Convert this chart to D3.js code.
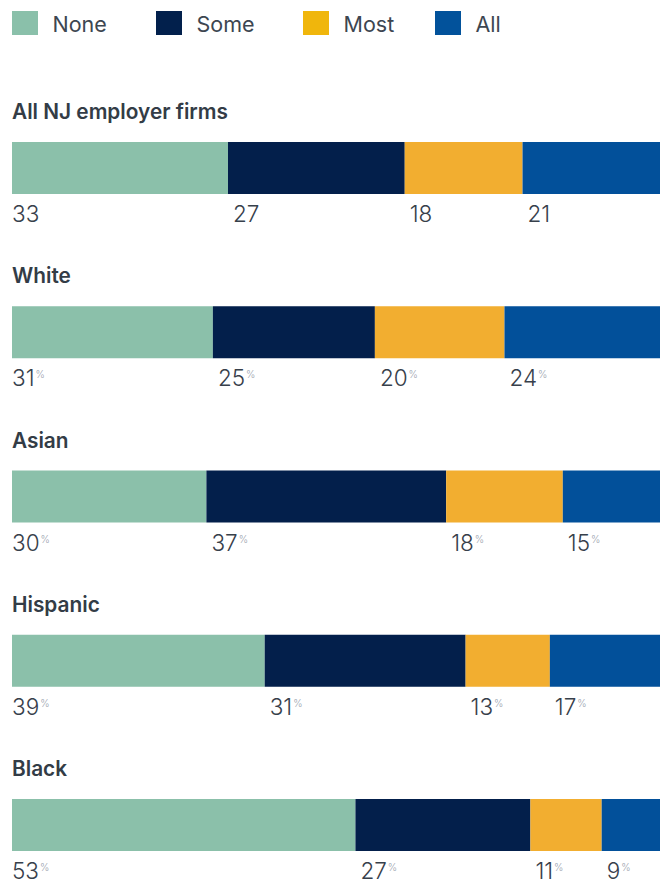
<!DOCTYPE html>
<html>
<head>
<meta charset="utf-8">
<script src="https://cdn.jsdelivr.net/npm/d3@7"></script>
<style>
  html, body { margin: 0; padding: 0; background: #fff; }
  svg { display: block; font-family: Inter, "Noto Sans", sans-serif; }
</style>
</head>
<body>
<svg id="chart" width="660" height="883"></svg>
<script>
// ---- Data ----
const categories = ["All NJ employer firms", "White", "Asian", "Hispanic", "Black"];
const seriesNames = ["None", "Some", "Most", "All"];
const noneValues = [33, 31, 30, 39, 53];
const someValues = [27, 25, 37, 31, 27];
const mostValues = [18, 20, 18, 13, 11];
const allValues  = [21, 24, 15, 17, 9];
const showPercent = [false, true, true, true, true];

// ---- Styles ----
const barColors = ["#8bc0aa", "#031f4b", "#f2ae30", "#02509a"];
const legendColors = ["#8ac0aa", "#02204c", "#f0b60c", "#02529b"];

const svg = d3.select("#chart");
const left = 12, right = 660;
const barH = 52;

const seriesValues = [noneValues, someValues, mostValues, allValues];
const rows = categories.map((c, i) => {
  const vals = seriesValues.map(s => s[i]);
  const total = d3.sum(vals);
  let cum = 0;
  const segs = vals.map((v, j) => {
    const s = { key: seriesNames[j], value: v, start: cum / total, end: (cum + v) / total, idx: j };
    cum += v;
    return s;
  });
  return { category: c, segs, pct: showPercent[i] };
});

const x = d3.scaleLinear().domain([0, 1]).range([left, right]);
const y = d3.scalePoint().domain(categories).range([142, 799]);

// ---- Legend ----
const legendPos = { None: 12, Some: 156, Most: 303, All: 435 };
const leg = svg.append("g").selectAll("g").data(seriesNames).join("g")
  .attr("transform", d => `translate(${legendPos[d]},11)`);
leg.append("rect").attr("width", 26).attr("height", 24)
  .attr("fill", (d, i) => legendColors[i]);
leg.append("text").attr("x", 40.5).attr("y", 21.3)
  .attr("font-size", 21.5).attr("fill", "#3d4651")
  .text(d => d);

// ---- Rows ----
const g = svg.append("g").selectAll("g").data(rows).join("g")
  .attr("transform", d => `translate(0,${y(d.category)})`);

g.append("text")
  .attr("x", 12).attr("y", -23)
  .attr("font-size", 20.8).attr("font-weight", 600).attr("fill", "#333c46")
  .text(d => d.category);

g.selectAll("rect").data(d => d.segs).join("rect")
  .attr("x", d => x(d.start))
  .attr("y", 0)
  .attr("width", d => x(d.end) - x(d.start))
  .attr("height", barH)
  .attr("fill", d => barColors[d.idx]);

const lab = g.selectAll("text.lab").data(d => d.segs.map(s => ({ ...s, pct: d.pct }))).join("text")
  .attr("class", "lab")
  .attr("x", d => x(d.start) + (d.idx === 0 ? 0 : 5))
  .attr("y", barH + 28)
  .attr("font-size", 22.5).attr("font-weight", 300).attr("fill", "#37404b");
lab.append("tspan").text(d => d.value);
lab.filter(d => d.pct).append("tspan")
  .attr("font-size", 10).attr("dy", -8).attr("fill", "#98a1ad").attr("dx", 1)
  .text("%");
</script>
</body>
</html>
